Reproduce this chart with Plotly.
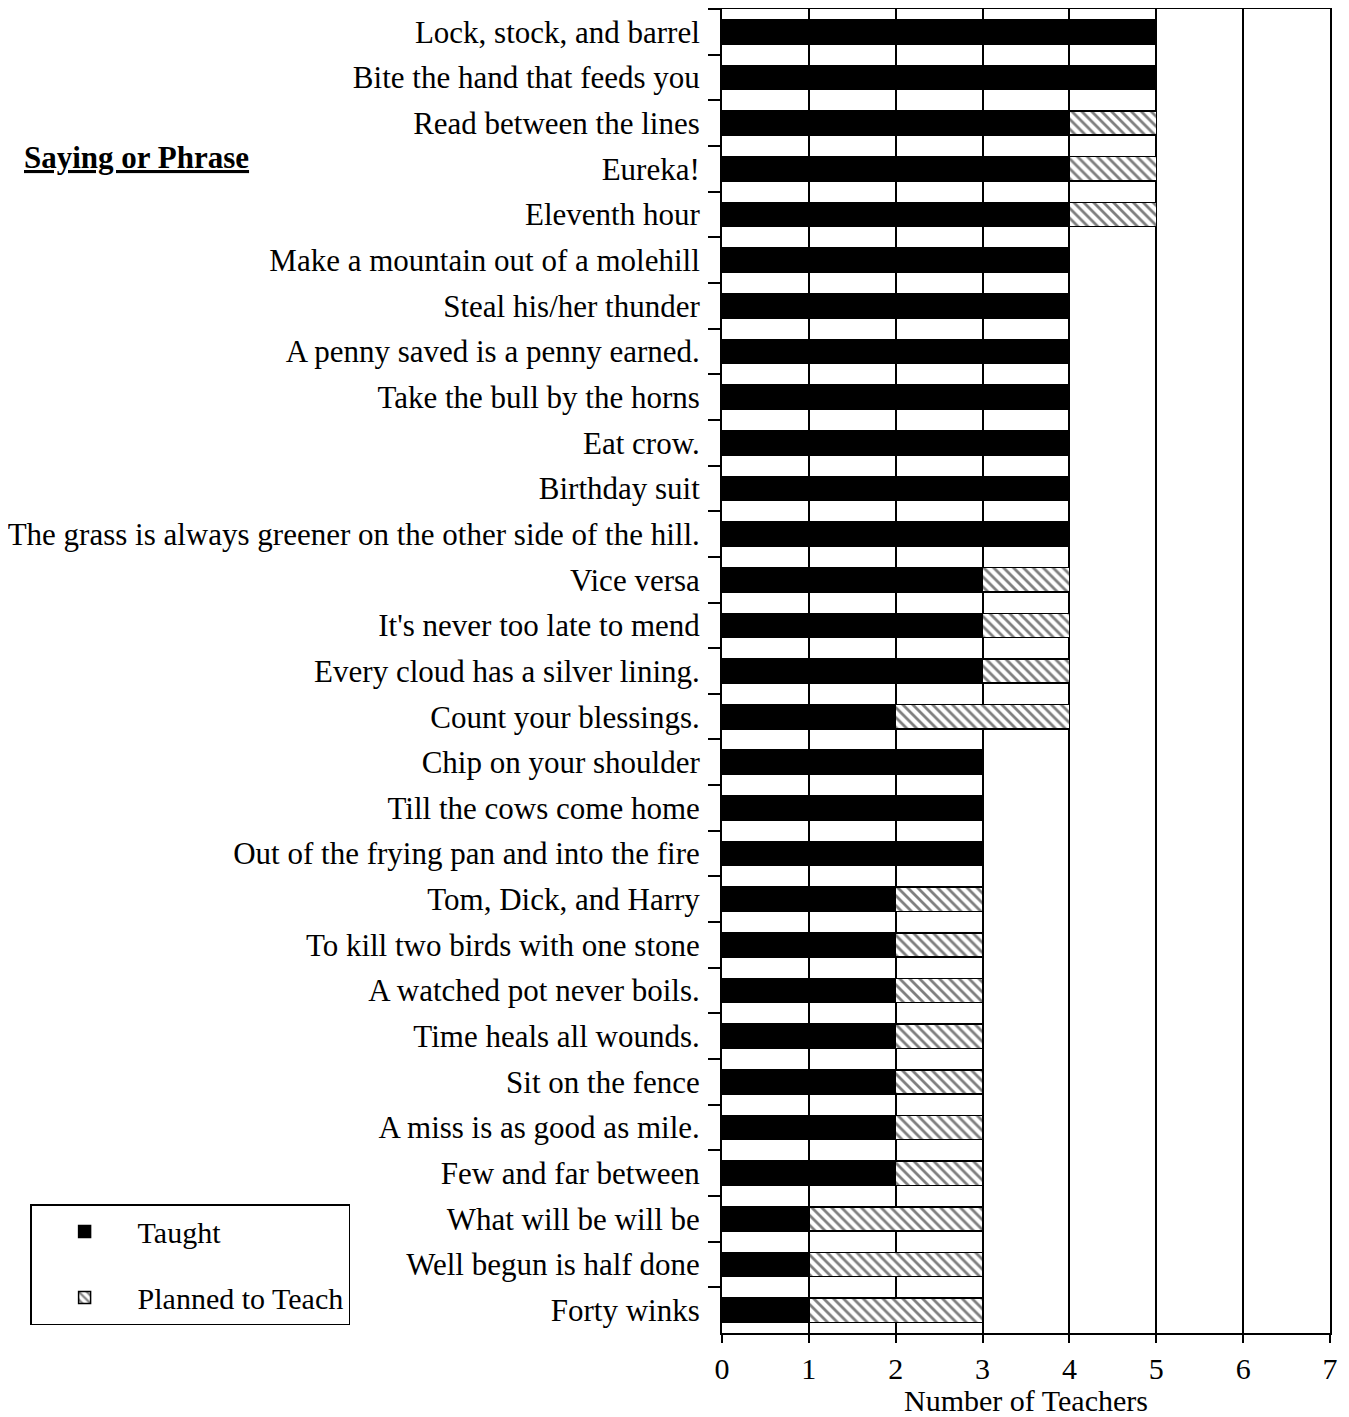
import plotly.graph_objects as go

# sayings, top to bottom
phrases = [
    "Lock, stock, and barrel",
    "Bite the hand that feeds you",
    "Read between the lines",
    "Eureka!",
    "Eleventh hour",
    "Make a mountain out of a molehill",
    "Steal his/her thunder",
    "A penny saved is a penny earned.",
    "Take the bull by the horns",
    "Eat crow.",
    "Birthday suit",
    "The grass is always greener on the other side of the hill.",
    "Vice versa",
    "It's never too late to mend",
    "Every cloud has a silver lining.",
    "Count your blessings.",
    "Chip on your shoulder",
    "Till the cows come home",
    "Out of the frying pan and into the fire",
    "Tom, Dick, and Harry",
    "To kill two birds with one stone",
    "A watched pot never boils.",
    "Time heals all wounds.",
    "Sit on the fence",
    "A miss is as good as mile.",
    "Few and far between",
    "What will be will be",
    "Well begun is half done",
    "Forty winks",
]
taught = [5, 5, 4, 4, 4, 4, 4, 4, 4, 4, 4, 4, 3, 3, 3, 2, 3, 3, 3, 2, 2, 2, 2, 2, 2, 2, 1, 1, 1]
planned = [0, 0, 1, 1, 1, 0, 0, 0, 0, 0, 0, 0, 1, 1, 1, 2, 0, 0, 0, 1, 1, 1, 1, 1, 1, 1, 2, 2, 2]

serif = "Liberation Serif, Times New Roman, serif"

fig = go.Figure()
fig.add_trace(go.Bar(
    y=phrases, x=taught, orientation="h", name="Taught",
    marker=dict(color="black", line=dict(color="black", width=1.5)),
    legendgroup="a",
))
fig.add_trace(go.Bar(
    y=phrases, x=planned, orientation="h", name="Planned to Teach",
    marker=dict(color="white", line=dict(color="black", width=1.5),
                pattern=dict(shape="\\", fgcolor="black", bgcolor="white",
                             size=7, solidity=0.4)),
    legendgroup="b",
))

fig.add_annotation(
    text="<b><u>Saying or Phrase</u></b>", xref="paper", yref="paper",
    x=-1.151, y=0.8875, xanchor="left", yanchor="middle", showarrow=False,
    font=dict(family=serif, size=31, color="black"),
)

# page body has an 8px margin, so the figure is offset by that much
fig.update_layout(
    barmode="stack",
    bargap=0.47,
    width=1341, height=1409,
    margin=dict(l=714, r=19, t=1, b=84),
    plot_bgcolor="white", paper_bgcolor="white",
    font=dict(family=serif, size=31, color="black"),
    legend=dict(
        x=-1.138, y=0.006, xanchor="left", yanchor="bottom",
        bordercolor="black", borderwidth=1.5, bgcolor="white",
        font=dict(family=serif, size=30, color="black"),
        tracegroupgap=24, itemwidth=96, entrywidth=370,
    ),
    showlegend=True,
)
fig.update_xaxes(
    range=[0, 7], dtick=1, tick0=0,
    showgrid=True, gridcolor="black", gridwidth=1.5,
    showline=True, linecolor="black", linewidth=2, mirror=True,
    ticks="outside", ticklen=8, tickcolor="black", tickwidth=1.5,
    tickfont=dict(family=serif, size=30),
    title=dict(text="Number of Teachers", font=dict(family=serif, size=30), standoff=4),
    zeroline=False, automargin=False,
)
fig.update_yaxes(
    autorange="reversed",
    showline=True, linecolor="black", linewidth=2, mirror=True,
    ticks="outside", ticklen=12, tickcolor="black", tickwidth=1.5,
    tickson="boundaries", ticklabelstandoff=14,
    tickfont=dict(family=serif, size=31),
    showgrid=False, automargin=False,
)

fig.write_html("out.html")
